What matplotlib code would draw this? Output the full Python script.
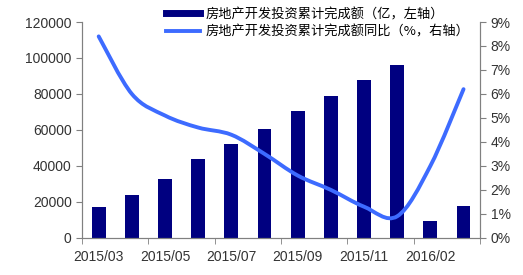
import numpy as np
import matplotlib.pyplot as plt
from matplotlib.path import Path
from matplotlib.patches import PathPatch
from matplotlib.lines import Line2D

plt.rcParams['font.family'] = ['Liberation Sans', 'Noto Sans CJK SC', 'DejaVu Sans']

months = ["2015/03", "2015/04", "2015/05", "2015/06", "2015/07", "2015/08",
          "2015/09", "2015/10", "2015/11", "2015/12", "2016/02", "2016/03"]
invest = [16914, 23669, 32605, 43955, 52188, 60647, 70535, 78985, 87702, 95979, 9122, 17677]
growth = [8.4, 6.0, 5.1, 4.6, 4.3, 3.5, 2.6, 2.0, 1.3, 0.9, 3.0, 6.2]

bar_label = "房地产开发投资累计完成额（亿，左轴）"
line_label = "房地产开发投资累计完成额同比（%，右轴）"

navy = "#000080"
blue = "#3D6BFF"
grey = "#808080"

fig = plt.figure(figsize=(5.23, 2.75), dpi=100)
ax = fig.add_axes([0.157, 0.135, 0.761, 0.785])
x = np.arange(len(months))
ax.bar(x, invest, width=0.42, color=navy, zorder=2)
ax.set_xlim(-0.5, len(months) - 0.5)
ax.set_ylim(0, 120000)
ax.set_yticks(range(0, 120001, 20000))
ax.set_xticks(x[::2])
ax.set_xticklabels(months[::2])
ax.set_xticks(np.arange(-0.5, len(months), 2), minor=True)
ax.tick_params(axis='x', which='major', length=0, pad=9)
ax.tick_params(axis='x', which='minor', length=4, color=grey)
ax.tick_params(axis='y', length=4, color=grey)
ax.tick_params(labelsize=10, labelcolor="#333333")
ax.spines['top'].set_visible(False)
for s in ['left', 'bottom', 'right']:
    ax.spines[s].set_color(grey)

ax2 = ax.twinx()
ax2.set_ylim(0, 9)
ax2.set_yticks(range(0, 10))
ax2.set_yticklabels([f"{v}%" for v in range(0, 10)])
ax2.tick_params(axis='y', length=4, color=grey, labelsize=10, labelcolor="#333333")
ax2.spines['top'].set_visible(False)
for s in ['left', 'bottom', 'right']:
    ax2.spines[s].set_color(grey)

# smoothed line drawn as bezier segments through the data points
pts = np.column_stack([x, growth]).astype(float)
verts = [tuple(pts[0])]
codes = [Path.MOVETO]
t = 1 / 6
for i in range(len(pts) - 1):
    p0 = pts[max(i - 1, 0)]
    p1 = pts[i]
    p2 = pts[i + 1]
    p3 = pts[min(i + 2, len(pts) - 1)]
    c1 = p1 + (p2 - p0) * t
    c2 = p2 - (p3 - p1) * t
    verts += [tuple(c1), tuple(c2), tuple(p2)]
    codes += [Path.CURVE4] * 3
ax2.add_patch(PathPatch(Path(verts, codes), fill=False, edgecolor=blue,
                        linewidth=2.8, capstyle='round', zorder=3))

handles = [Line2D([0], [0], color=navy, linewidth=5),
           Line2D([0], [0], color=blue, linewidth=2.8)]
fig.legend(handles, [bar_label, line_label], loc='upper left',
           bbox_to_anchor=(0.295, 1.015), frameon=False, handlelength=2.6,
           handletextpad=0.4, labelspacing=0.3,
           prop={'family': ['Noto Sans CJK SC', 'DejaVu Sans'], 'size': 9.5})

fig.savefig("out.png", dpi=100)
